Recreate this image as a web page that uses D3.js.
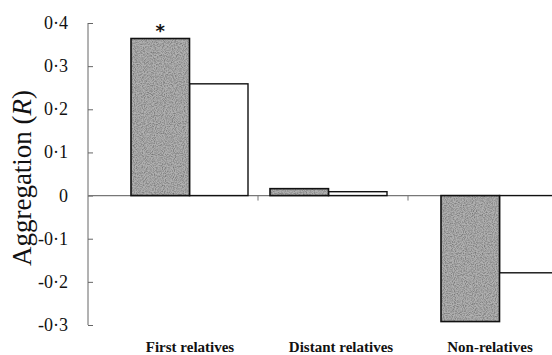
<!DOCTYPE html>
<html><head><meta charset="utf-8">
<script src="https://cdn.jsdelivr.net/npm/d3@7"></script>
<style>html,body{margin:0;padding:0;background:#fff;overflow:hidden}svg{display:block}</style>
</head><body>
<script>
const categories = ["First relatives", "Distant relatives", "Non-relatives"];
const seriesA = [0.364, 0.016, -0.292];   // shaded bars
const seriesB = [0.259, 0.009, -0.179];   // open bars
const yTicks = [0.4, 0.3, 0.2, 0.1, 0, -0.1, -0.2, -0.3];
const yTickLabels = ["0·4", "0·3", "0·2", "0·1", "0", "-0·1", "-0·2", "-0·3"];
const significance = ["*", "", ""];

const SERIF = "font-family:'Liberation Serif','Times New Roman',serif";
const W = 552, H = 355;
const svg = d3.select("body").append("svg").attr("width", W).attr("height", H);

const defs = svg.append("defs");
const f = defs.append("filter").attr("id", "grain").attr("x", 0).attr("y", 0).attr("width", 1).attr("height", 1)
  .attr("color-interpolation-filters", "sRGB");
f.append("feTurbulence").attr("type", "fractalNoise").attr("baseFrequency", 0.9).attr("numOctaves", 2).attr("seed", 3).attr("result", "n");
f.append("feColorMatrix").attr("in", "n").attr("type", "matrix")
  .attr("values", "0 0 0 0 0.4  0 0 0 0 0.4  0 0 0 0 0.4  0 0 0 -1.6 1.0").attr("result", "g");
f.append("feComposite").attr("in", "g").attr("in2", "SourceGraphic").attr("operator", "in").attr("result", "gi");
f.append("feMerge").selectAll("feMergeNode").data(["SourceGraphic", "gi"]).join("feMergeNode").attr("in", d => d);

const y = d3.scaleLinear().domain([-0.3, 0.4]).range([325, 23]);
const axisX = 88;
// group left edges (uneven spacing as in the original figure)
const gx = d3.scaleOrdinal().domain(categories).range([131, 270, 441]);
const lx = d3.scaleOrdinal().domain(categories).range([190, 341, 490]);
const barW = 58.5;
const boundaryTicks = [258, 408];

// y axis
const yAxis = d3.axisRight(y).tickValues(yTicks).tickSize(5).tickFormat("");
const ag = svg.append("g").attr("transform", `translate(${axisX},0)`).call(yAxis);
ag.select(".domain").attr("stroke", "#666").attr("stroke-width", 1).attr("d", `M0,${y(0.4)}V${y(-0.3)}`);
ag.selectAll(".tick line").attr("stroke", "#666");

svg.append("g").selectAll("text").data(yTicks).join("text").attr("style", SERIF)
  .attr("x", 68).attr("y", d => y(d) + 6)
  .attr("text-anchor", "end")
  .attr("font-size", 18).attr("fill", "#111")
  .text((d, i) => yTickLabels[i]);

// axis title
const t = svg.append("text").attr("style", SERIF)
  .attr("transform", `translate(31,178) rotate(-90)`)
  .attr("text-anchor", "middle")
  .attr("font-size", 27).attr("fill", "#111");
t.append("tspan").text("Aggregation (");
t.append("tspan").attr("font-style", "italic").text("R");
t.append("tspan").text(")");

// zero line
svg.append("line").attr("x1", axisX).attr("x2", W).attr("y1", y(0)).attr("y2", y(0))
  .attr("stroke", "#777").attr("stroke-width", 1.2);
svg.append("g").selectAll("line").data(boundaryTicks).join("line")
  .attr("x1", d => d).attr("x2", d => d).attr("y1", y(0)).attr("y2", y(0) + 5)
  .attr("stroke", "#777");

// bars
const bars = svg.append("g");
bars.selectAll("rect.b").data(categories).join("rect").attr("class", "b")
  .attr("x", (d, i) => gx(d) + barW).attr("width", barW)
  .attr("y", (d, i) => y(Math.max(0, seriesB[i])))
  .attr("height", (d, i) => Math.abs(y(seriesB[i]) - y(0)))
  .attr("fill", "#fff").attr("stroke", "#111").attr("stroke-width", 1.4);
bars.selectAll("rect.a").data(categories).join("rect").attr("class", "a")
  .attr("x", d => gx(d)).attr("width", barW)
  .attr("y", (d, i) => y(Math.max(0, seriesA[i])))
  .attr("height", (d, i) => Math.abs(y(seriesA[i]) - y(0)))
  .attr("fill", "#b0b0b0").attr("filter", "url(#grain)");
bars.selectAll("rect.ao").data(categories).join("rect").attr("class", "ao")
  .attr("x", d => gx(d)).attr("width", barW)
  .attr("y", (d, i) => y(Math.max(0, seriesA[i])))
  .attr("height", (d, i) => Math.abs(y(seriesA[i]) - y(0)))
  .attr("fill", "none").attr("stroke", "#111").attr("stroke-width", 1.6);

// significance marks
svg.append("g").selectAll("text").data(categories).join("text")
  .attr("x", d => gx(d) + barW / 2).attr("y", (d, i) => y(seriesA[i]) - 2)
  .attr("text-anchor", "middle")
  .attr("font-family", "DejaVu Sans, sans-serif").attr("font-weight", "bold")
  .attr("font-size", 18).attr("fill", "#111")
  .text((d, i) => significance[i]);

// category labels
svg.append("g").selectAll("text").data(categories).join("text").attr("style", SERIF)
  .attr("x", d => lx(d)).attr("y", 352)
  .attr("text-anchor", "middle")
  .attr("font-weight", "bold").attr("font-size", 15).attr("fill", "#111")
  .text(d => d);
</script>
</body></html>
